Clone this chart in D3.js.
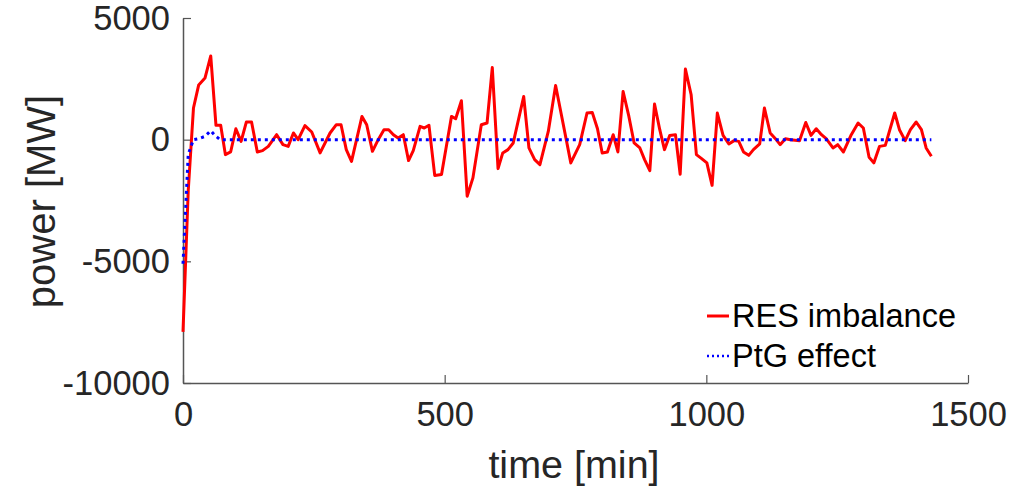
<!DOCTYPE html>
<html>
<head>
<meta charset="utf-8">
<script src="https://cdn.jsdelivr.net/npm/d3@7"></script>
<style>
  html, body { margin: 0; padding: 0; background: #fff; }
  svg { display: block; font-family: "Liberation Sans", Arial, Helvetica, sans-serif; }
</style>
</head>
<body>
<svg id="chart" width="1025" height="489"></svg>
<script>
// ---- data ----
const resTime = [0,10,20,30,42,53,63,72,81,91,101,111,121,131,142,152,163,179,191,201,211,220,233,246,262,281,293,302,312,322,342,351,362,373,384,393,402,411,421,431,440,453,461,470,481,494,513,521,532,543,554,570,581,591,602,611,621,631,651,661,672,682,698,712,723,741,758,772,782,792,801,811,822,831,841,852,862,873,882,892,901,911,920,930,941,950,960,971,981,991,1001,1011,1021,1032,1043,1053,1062,1071,1081,1090,1102,1111,1122,1132,1141,1151,1161,1178,1190,1200,1210,1220,1229,1242,1251,1262,1277,1290,1300,1311,1320,1331,1342,1360,1369,1380,1390,1401,1411,1420,1430];
const resImbalance = [-7900,-2100,1300,2250,2530,3440,590,590,-615,-505,450,-70,725,725,-505,-450,-275,205,-205,-275,275,0,580,315,-545,275,615,615,-410,-890,955,615,-480,0,410,410,205,70,205,-860,-450,545,480,590,-1470,-1435,955,860,1600,-2325,-1570,615,685,2965,-1190,-545,-410,-135,1775,-340,-820,-1025,340,2225,1025,-955,-205,1095,1120,450,-545,-505,205,-505,1980,955,-135,-340,-820,-1270,1465,410,-410,175,205,-1420,2900,1845,-615,-780,-955,-1875,1095,175,-175,-40,-70,-505,-645,-410,-175,1300,275,40,-205,40,0,-40,705,175,450,205,40,-340,-205,-505,205,685,480,-725,-955,-275,-235,1095,410,-40,410,725,410,-340,-680];

const ptgTime = [0,10,20,30,42,53,61,71,1430];
const ptgEffect = [-5100,-600,0,40,135,370,175,0,0];

const xTicks = [0,500,1000,1500];
const yTicks = [-10000,-5000,0,5000];
const seriesNames = ["RES imbalance","PtG effect"];

// ---- layout ----
const svg = d3.select("#chart");
const L = 183, R = 968, T = 18, B = 383;
const x = d3.scaleLinear().domain([0,1500]).range([L,R]);
const y = d3.scaleLinear().domain([-10000,5000]).range([B,T]);
const axisColor = "#555";
const textColor = "#262626";

// lines
const resData = resTime.map((t,i)=>({t, v: resImbalance[i]}));
const ptgData = ptgTime.map((t,i)=>({t, v: ptgEffect[i]}));
const line = d3.line().x(d=>x(d.t)).y(d=>y(d.v));

// axes
const xAxis = d3.axisBottom(x).tickValues(xTicks).tickFormat(d3.format("d")).tickSizeInner(-8).tickSizeOuter(0).tickPadding(19);
const yAxis = d3.axisLeft(y).tickValues(yTicks).tickFormat(d3.format("d")).tickSizeInner(-8).tickSizeOuter(0).tickPadding(13);

const gx = svg.append("g").attr("transform",`translate(0,${B})`).call(xAxis);
const gy = svg.append("g").attr("transform",`translate(${L},0)`).call(yAxis);
[gx, gy].forEach(g => {
  g.select(".domain").attr("stroke", axisColor).attr("stroke-width", 1.5);
  g.selectAll(".tick line").attr("stroke", axisColor).attr("stroke-width", 1.2);
  g.selectAll(".tick text").attr("fill", textColor).style("font-size","34.5px").style("font-family","'Liberation Sans', Arial, sans-serif");
});
gy.selectAll(".tick text").text(d => d < 0 ? "-" + Math.abs(d) : d);

svg.append("path").datum(resData).attr("d", line)
  .attr("fill","none").attr("stroke","#ff0000").attr("stroke-width",3).attr("stroke-linejoin","round");
svg.append("path").datum(ptgData).attr("d", line)
  .attr("fill","none").attr("stroke","#0000ff").attr("stroke-width",3).attr("stroke-dasharray","3,4");

// axis labels
svg.append("text").attr("x",574).attr("y",478).attr("text-anchor","middle")
  .attr("fill",textColor).style("font-size","39.5px").text("time [min]");
svg.append("text").attr("transform",`translate(55,${(T+B)/2 + 1}) rotate(-90)`).attr("text-anchor","middle")
  .attr("fill",textColor).style("font-size","40px").text("power [MW]");

// legend
const legend = svg.append("g");
const items = [{name: seriesNames[0], color:"#ff0000", dash:null, y:316},
               {name: seriesNames[1], color:"#0000ff", dash:"2,3", y:356}];
items.forEach(it => {
  legend.append("line").attr("x1",707).attr("x2",729).attr("y1",it.y).attr("y2",it.y)
    .attr("stroke",it.color).attr("stroke-width", it.dash ? 2.5 : 3).attr("stroke-dasharray", it.dash);
  legend.append("text").attr("x",732).attr("y",it.y).attr("dy","0.35em")
    .attr("fill","#000").style("font-size","32.5px").text(it.name);
});
</script>
</body>
</html>
